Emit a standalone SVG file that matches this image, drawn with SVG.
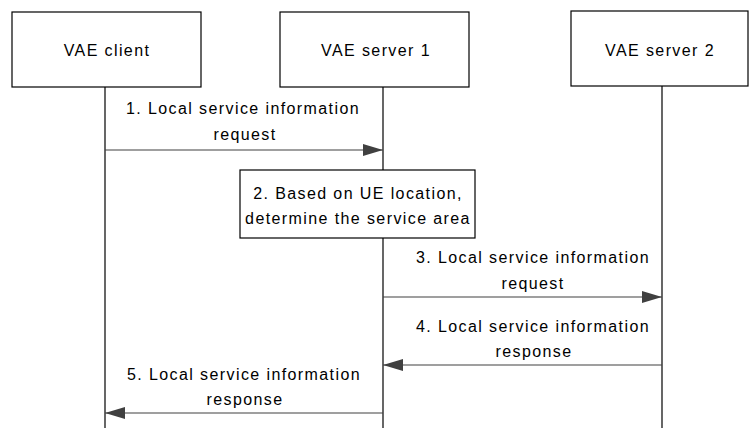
<svg xmlns="http://www.w3.org/2000/svg" width="749" height="428" viewBox="0 0 749 428">
<defs>
<style>
text{font-family:"Liberation Sans",Arial,sans-serif;font-size:16px;fill:#000;text-anchor:middle;dominant-baseline:central;letter-spacing:1.4px}
.box{fill:#fff;stroke:#000;stroke-width:1.2}
.life{stroke:#000;stroke-width:1.2;fill:none}
.msg{stroke:#404040;stroke-width:1.2;fill:none;marker-end:url(#ah)}
</style>
<marker id="ah" markerWidth="20" markerHeight="12" refX="20" refY="6" orient="auto" markerUnits="userSpaceOnUse">
<path d="M0,0 L20,6 L0,12 Z" fill="#404040"/>
</marker>
</defs>
<g id="lifelines">
<line class="life" x1="105" y1="87" x2="105" y2="428"/>
<line class="life" x1="383" y1="87" x2="383" y2="428"/>
<line class="life" x1="662" y1="86" x2="662" y2="428"/>
</g>
<g id="client"><rect class="box" x="12" y="12" width="189" height="75"/><text x="107" y="50">VAE client</text></g>
<g id="server1"><rect class="box" x="280" y="12" width="189" height="75"/><text x="376" y="50">VAE server 1</text></g>
<g id="server2"><rect class="box" x="571" y="11" width="177" height="75"/><text x="660" y="50">VAE server 2</text></g>
<g id="step2"><rect class="box" x="240" y="170" width="235" height="68"/><text x="358" y="193">2. Based on UE location,</text><text x="358" y="218">determine the service area</text></g>
<g id="connectors">
<line class="msg" x1="105" y1="150" x2="383" y2="150"/>
<line class="msg" x1="383" y1="297" x2="662" y2="297"/>
<line class="msg" x1="662" y1="365" x2="383" y2="365"/>
<line class="msg" x1="383" y1="413" x2="105" y2="413"/>
<text x="243" y="108">1. Local service information</text><text x="245" y="134">request</text>
<text x="533" y="257">3. Local service information</text><text x="533" y="283">request</text>
<text x="533" y="326">4. Local service information</text><text x="534" y="351">response</text>
<text x="244" y="374">5. Local service information</text><text x="245" y="399">response</text>
</g>
</svg>
